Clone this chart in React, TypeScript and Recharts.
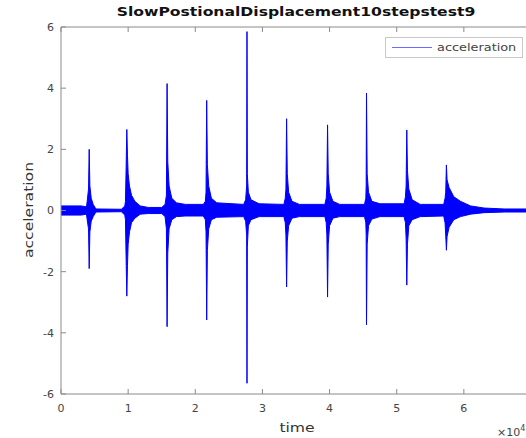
import { ComposedChart, Area, XAxis, YAxis, Legend } from 'recharts';

// ─── Data (time in units of 10^4) ─────────────────────────────

const times = [
  0.0, 0.3, 0.38,
  0.39, 0.41, 0.42, 0.43, 0.45, 0.48, 0.52, 0.9, 0.95,
  0.96, 0.97, 0.98, 0.99, 1.0, 1.02, 1.05, 1.1, 1.18, 1.3, 1.5, 1.55,
  1.57, 1.58, 1.59, 1.61, 1.65, 1.72, 1.85, 2.12, 2.15,
  2.16, 2.17, 2.18, 2.2, 2.24, 2.32, 2.72, 2.75,
  2.765, 2.77, 2.775, 2.79, 2.83, 2.95, 3.32, 3.34,
  3.35, 3.36, 3.37, 3.39, 3.44, 3.55, 3.93, 3.95,
  3.96, 3.97, 3.98, 4.0, 4.05, 4.15, 4.52, 4.54,
  4.545, 4.55, 4.56, 4.58, 4.63, 4.75, 5.11, 5.13,
  5.14, 5.15, 5.16, 5.18, 5.23, 5.35, 5.7, 5.72,
  5.73, 5.74, 5.75, 5.78, 5.85, 5.95, 6.1, 6.3, 6.6, 7.0,
];

const upper = [
  0.15, 0.15, 0.12,
  0.3, 0.7, 2.0, 0.8, 0.4, 0.2, 0.05, 0.04, 0.15,
  0.3, 1.4, 2.65, 1.8, 1.2, 0.8, 0.5, 0.3, 0.15, 0.1, 0.1, 0.2,
  0.5, 4.15, 1.6, 0.8, 0.4, 0.25, 0.2, 0.2, 0.3,
  0.6, 3.6, 1.5, 0.8, 0.4, 0.25, 0.2, 0.35,
  0.8, 5.85, 1.2, 0.6, 0.35, 0.22, 0.2, 0.4,
  0.7, 3.0, 1.2, 0.6, 0.3, 0.2, 0.2, 0.4,
  0.8, 2.8, 1.2, 0.6, 0.3, 0.2, 0.2, 0.4,
  0.8, 3.84, 1.2, 0.6, 0.3, 0.22, 0.22, 0.45,
  0.8, 2.63, 1.3, 0.7, 0.35, 0.2, 0.2, 0.4,
  0.6, 1.49, 1.0, 0.75, 0.45, 0.3, 0.15, 0.08, 0.05, 0.05,
];

const lower = [
  -0.15, -0.15, -0.12,
  -0.3, -0.6, -1.9, -0.7, -0.35, -0.2, -0.05, -0.04, -0.15,
  -0.3, -1.6, -2.8, -1.8, -1.1, -0.7, -0.4, -0.25, -0.12, -0.1, -0.1, -0.2,
  -0.6, -3.8, -1.4, -0.6, -0.3, -0.2, -0.18, -0.18, -0.3,
  -0.7, -3.58, -1.3, -0.6, -0.3, -0.22, -0.2, -0.35,
  -0.8, -5.65, -1.2, -0.5, -0.3, -0.2, -0.2, -0.4,
  -0.8, -2.5, -1.0, -0.5, -0.25, -0.2, -0.2, -0.4,
  -0.8, -2.83, -1.1, -0.5, -0.25, -0.2, -0.2, -0.4,
  -0.8, -3.74, -1.1, -0.5, -0.28, -0.2, -0.2, -0.4,
  -0.9, -2.44, -1.1, -0.5, -0.3, -0.2, -0.18, -0.4,
  -0.8, -1.3, -0.85, -0.55, -0.3, -0.2, -0.12, -0.07, -0.05, -0.05,
];

const xTicks = [0, 1, 2, 3, 4, 5, 6];
const yTicks = [-6, -4, -2, 0, 2, 4, 6];

const data = times.map((t, i) => ({ t, acceleration: [lower[i], upper[i]] }));

// ─── Legend ─────────────────────────

function LegendBox() {
  return (
    <div
      style={{
        width: 136,
        height: 19,
        border: '1px solid #c8c8c8',
        background: '#fff',
        display: 'flex',
        alignItems: 'center',
        fontFamily: 'DejaVu Sans',
        fontSize: 11,
        color: '#444',
      }}
    >
      <div style={{ width: 40, height: 1, background: '#6b6bff', marginLeft: 6, marginRight: 5 }} />
      <span style={{ display: 'inline-block', transform: 'scaleX(1.17)', transformOrigin: 'left center' }}>
        acceleration
      </span>
    </div>
  );
}

const axisLine = { stroke: '#8a8a8a' };
const tickStyle = { fontSize: 11, fill: '#444', fontFamily: 'DejaVu Sans' };
const stretch = { display: 'inline-block', transform: 'scaleX(1.2)' };

export default function App() {
  return (
    <div
      style={{
        position: 'absolute',
        left: 0,
        top: 0,
        width: 526,
        height: 438,
        overflow: 'hidden',
        background: '#fff',
        fontFamily: 'DejaVu Sans',
      }}
    >
      <ComposedChart
        width={545}
        height={438}
        data={data}
        margin={{ top: 26, right: 14, left: 31, bottom: 14 }}
      >
        <XAxis
          dataKey="t"
          type="number"
          domain={[0, 7]}
          ticks={xTicks}
          tickSize={-5}
          tickMargin={15}
          height={30}
          axisLine={axisLine}
          tickLine={axisLine}
          tick={tickStyle}
          interval={0}
        />
        <XAxis
          xAxisId="top"
          dataKey="t"
          type="number"
          orientation="top"
          domain={[0, 7]}
          ticks={xTicks}
          tickSize={-5}
          height={1}
          axisLine={axisLine}
          tickLine={axisLine}
          tickFormatter={() => ''}
        />
        <YAxis
          type="number"
          domain={[-6, 6]}
          ticks={yTicks}
          tickSize={-5}
          tickMargin={12}
          width={30}
          axisLine={axisLine}
          tickLine={axisLine}
          tick={tickStyle}
          interval={0}
        />
        <Legend
          verticalAlign="middle"
          align="center"
          content={<LegendBox />}
          wrapperStyle={{ position: 'absolute', top: 37, left: 385, width: 'auto' }}
        />
        <Area
          type="linear"
          dataKey="acceleration"
          stroke="#0000ff"
          strokeWidth={1}
          fill="#0000ff"
          fillOpacity={1}
          isAnimationActive={false}
          dot={false}
          activeDot={false}
        />
      </ComposedChart>

      {/* title and axis labels */}
      <div
        style={{
          position: 'absolute',
          top: 4,
          left: 296,
          transform: 'translateX(-50%) scaleX(1.2)',
          fontSize: 13,
          fontWeight: 'bold',
          color: '#111',
          whiteSpace: 'nowrap',
        }}
      >
        SlowPostionalDisplacement10stepstest9
      </div>
      <div
        style={{
          position: 'absolute',
          left: 28,
          top: 210,
          transform: 'translate(-50%, -50%) rotate(-90deg)',
          fontSize: 13,
          color: '#333',
          whiteSpace: 'nowrap',
        }}
      >
        <span style={stretch}>acceleration</span>
      </div>
      <div
        style={{
          position: 'absolute',
          left: 297,
          top: 420,
          transform: 'translateX(-50%)',
          fontSize: 13,
          color: '#333',
        }}
      >
        <span style={stretch}>time</span>
      </div>
      <div style={{ position: 'absolute', left: 497, top: 424, fontSize: 11, color: '#444', whiteSpace: 'nowrap' }}>
        ×10<sup style={{ fontSize: 8 }}>4</sup>
      </div>
    </div>
  );
}
